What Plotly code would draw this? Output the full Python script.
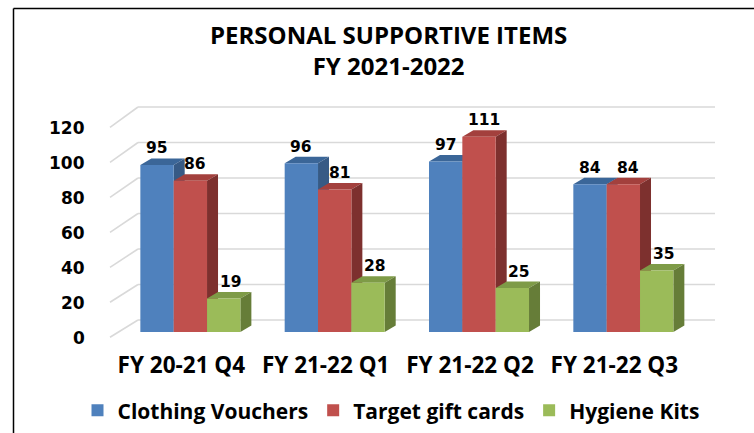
import plotly.graph_objects as go
import numpy as np

# ---------------- data ----------------
categories = ["FY 20-21 Q4", "FY 21-22 Q1", "FY 21-22 Q2", "FY 21-22 Q3"]
clothing_vouchers = [95, 96, 97, 84]
target_gift_cards = [86, 81, 111, 84]
hygiene_kits = [19, 28, 25, 35]
series_names = ["Clothing Vouchers", "Target gift cards", "Hygiene Kits"]
y_ticks = [0, 20, 40, 60, 80, 100, 120]
title_text = "PERSONAL SUPPORTIVE ITEMS<br>FY 2021-2022"

# ---------------- styling ----------------
W, H = 754, 433
front_colors = ["#4F81BD", "#C0504D", "#9BBB59"]
top_colors = ["#3B6698", "#A3403D", "#7E9B47"]
side_colors = ["#375A85", "#7D302E", "#667D38"]
label_xshift = [0, 5, 7]
TEXT_FONT = "Open Sans"

# pixel geometry (layout only)
x_px0, x_px1 = 118.2, 695.5        # x-axis domain in pixels
y_px0, y_px1 = 332.0, 100.0        # y-axis domain in pixels (bottom, top)
px_per_unit = 1.758
bargap = 0.307
depth_dx_px, depth_dy_px = 11.0, 6.5


def px(xp):
    return xp / W


def py(yp):
    return 1 - yp / H


cat_px = (x_px1 - x_px0) / len(categories)
dx_u = depth_dx_px / cat_px
dy_u = depth_dy_px / px_per_unit
y_top_val = (y_px0 - y_px1) / px_per_unit
bar_w = (1 - bargap) / 3

series_values = [clothing_vouchers, target_gift_cards, hygiene_kits]
xpos = list(range(len(categories)))

fig = go.Figure()
for k, (name, vals) in enumerate(zip(series_names, series_values)):
    fig.add_trace(go.Bar(
        x=xpos, y=vals, name=name,
        marker=dict(color=front_colors[k], line=dict(width=0)),
        hoverinfo="x+y+name",
    ))

shapes = []

# back wall gridlines + floor diagonals (computed from tick values)
def back_y(v):
    return 320.0 - v * 1.775


def front_y(v):
    return 337.3 - v * 1.75


grid_col = "#D9D9D9"
for v in y_ticks:
    shapes.append(dict(type="line", xref="paper", yref="paper",
                       x0=px(138), x1=px(715), y0=py(back_y(v)), y1=py(back_y(v)),
                       line=dict(color=grid_col, width=1.6), layer="below"))
    shapes.append(dict(type="line", xref="paper", yref="paper",
                       x0=px(110), x1=px(138), y0=py(front_y(v)), y1=py(back_y(v)),
                       line=dict(color=grid_col, width=1.6), layer="below"))

# 3D top and side faces of each bar, derived from the data values
for i in range(len(categories)):
    for k, vals in enumerate(series_values):
        v = vals[i]
        c = i + (k - 1) * bar_w
        xl, xr = c - bar_w / 2, c + bar_w / 2
        top = f"M{xl},{v} L{xr},{v} L{xr + dx_u},{v + dy_u} L{xl + dx_u},{v + dy_u} Z"
        side = f"M{xr},0 L{xr},{v} L{xr + dx_u},{v + dy_u} L{xr + dx_u},{dy_u} Z"
        shapes.append(dict(type="path", xref="x", yref="y", path=top,
                           fillcolor=top_colors[k], line=dict(width=0), layer="below"))
        shapes.append(dict(type="path", xref="x", yref="y", path=side,
                           fillcolor=side_colors[k], line=dict(width=0), layer="below"))

# outer chart border (left and top edges visible)
shapes.append(dict(type="line", xref="paper", yref="paper",
                   x0=px(13.5), x1=px(13.5), y0=py(8.5), y1=0,
                   line=dict(color="#000000", width=1.5), layer="above"))
shapes.append(dict(type="line", xref="paper", yref="paper",
                   x0=px(13.5), x1=1, y0=py(8.5), y1=py(8.5),
                   line=dict(color="#000000", width=1.5), layer="above"))

annotations = []
# data labels
for i in range(len(categories)):
    for k, vals in enumerate(series_values):
        v = vals[i]
        c = i + (k - 1) * bar_w
        annotations.append(dict(
            x=c, y=v, xref="x", yref="y", text=str(v), showarrow=False,
            xanchor="center", yanchor="middle", yshift=16.5, xshift=label_xshift[k],
            font=dict(family="DejaVu Sans", size=15.5, color="#000000", weight="bold"),
        ))

# y tick labels at the front edge of the floor diagonals
for v in y_ticks:
    annotations.append(dict(
        x=px(87), y=py(front_y(v) + 1), xref="paper", yref="paper", text=str(v),
        showarrow=False, xanchor="right", yanchor="middle",
        font=dict(family="DejaVu Sans", size=17, color="#000000", weight="bold"),
    ))

# title
annotations.append(dict(
    x=px(388), y=py(49.5), xref="paper", yref="paper", text=title_text,
    showarrow=False, xanchor="center", yanchor="middle",
    font=dict(family=TEXT_FONT, size=24, color="#000000", weight="bold"),
))

fig.update_layout(
    width=W, height=H,
    margin=dict(l=0, r=0, t=0, b=0),
    paper_bgcolor="#FFFFFF", plot_bgcolor="rgba(0,0,0,0)",
    barmode="group", bargap=bargap, bargroupgap=0,
    showlegend=True,
    legend=dict(orientation="h", x=px(391), xanchor="center", y=py(410.7), yanchor="middle",
                font=dict(family=TEXT_FONT, size=21, color="#000000", weight="bold"),
                bgcolor="rgba(0,0,0,0)"),
    xaxis=dict(domain=[px(x_px0), px(x_px1)], range=[-0.5, len(categories) - 0.5],
               tickvals=xpos, ticktext=categories, showgrid=False, zeroline=False,
               showline=False, ticks="", ticklabelstandoff=17, ticklabelshift=-9,
               tickfont=dict(family=TEXT_FONT, size=22.5, color="#000000", weight="bold")),
    yaxis=dict(domain=[py(y_px0), py(y_px1)], range=[0, y_top_val],
               showgrid=False, zeroline=False, showline=False, showticklabels=False, ticks=""),
    shapes=shapes,
    annotations=annotations,
)

fig.write_html("out.html", config={"displayModeBar": False},
               post_script="document.body.style.margin='0px';")
